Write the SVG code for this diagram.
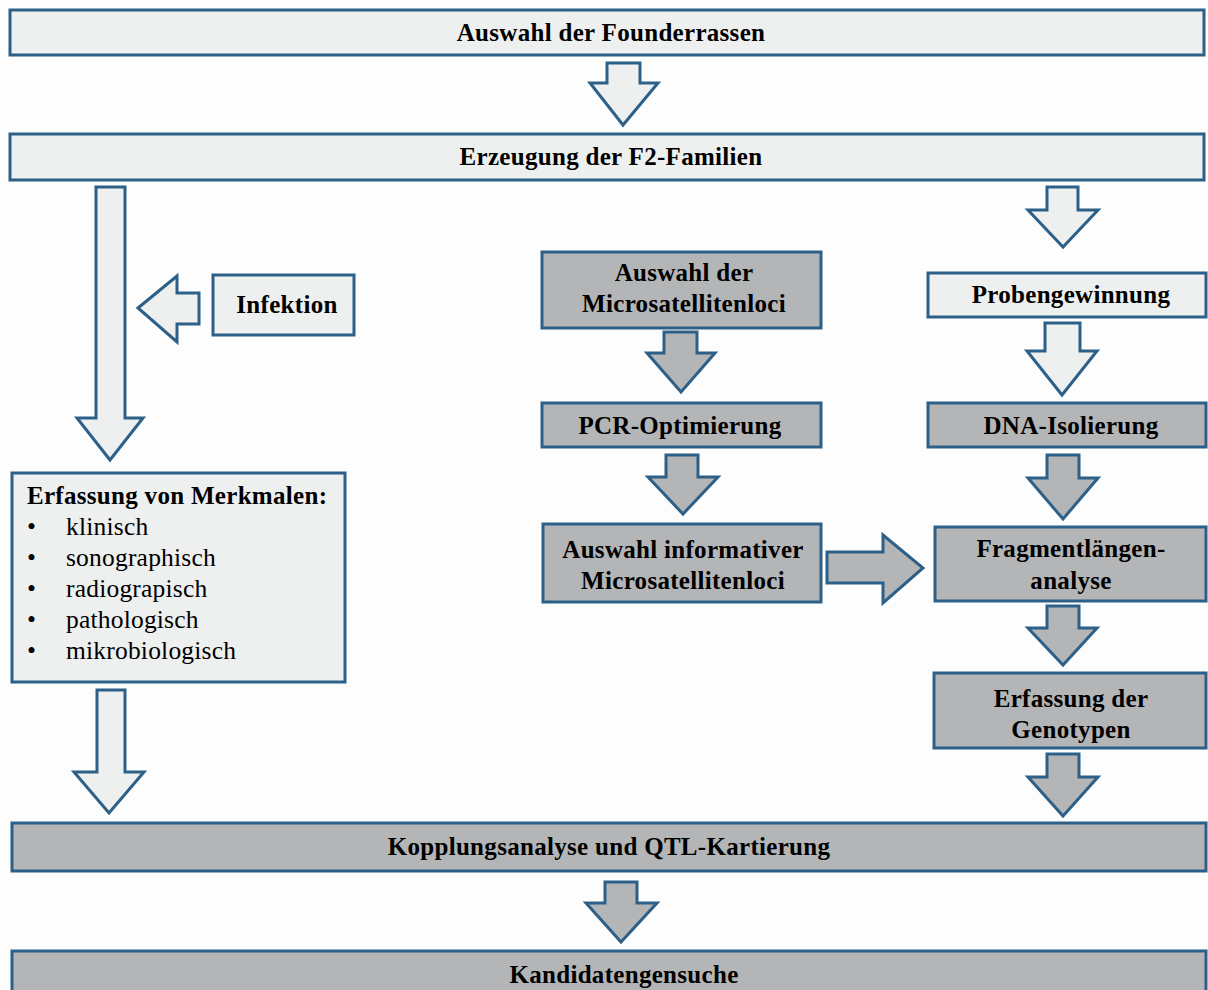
<svg xmlns="http://www.w3.org/2000/svg" width="1208" height="990" viewBox="0 0 1208 990">
<style>
.box{stroke:#2d6088;stroke-width:3}
.l{fill:#eeefef}
.g{fill:#b3b5b7}
.arr{stroke:#2d6088;stroke-width:3;stroke-linejoin:miter}
.t{font-family:"Liberation Serif","Times New Roman",serif;font-weight:bold;font-size:25px;letter-spacing:0.3px;fill:#000;text-anchor:middle}
.n{font-family:"Liberation Serif","Times New Roman",serif;font-size:25.5px;letter-spacing:0.2px;fill:#000}
</style>
<rect width="1208" height="990" fill="#fdfdfd"/>
<g id="connectors">
<polygon class="arr l" points="607,63 640,63 640,83 658,83 623,125 590,83 607,83"/>
<polygon class="arr l" points="96,187 125,187 125,418 143,418 110,460 77,418 96,418"/>
<polygon class="arr l" points="138,308 177,276 177,293 199,293 199,324 177,324 177,342"/>
<polygon class="arr l" points="1047,187 1078,187 1078,210 1098,210 1063,247 1028,210 1047,210"/>
<polygon class="arr l" points="1045,323 1080,323 1080,351 1097,351 1062,395 1027,351 1045,351"/>
<polygon class="arr g" points="664,332 697,332 697,353 715,353 681,392 647,353 664,353"/>
<polygon class="arr g" points="666,455 698,455 698,477 718,477 683,514 648,477 666,477"/>
<polygon class="arr g" points="1047,455 1079,455 1079,478 1098,478 1063,519 1028,478 1047,478"/>
<polygon class="arr g" points="827,552 883,552 883,535 923,568 883,603 883,583 827,583"/>
<polygon class="arr g" points="1047,606 1079,606 1079,628 1097,628 1063,665 1028,628 1047,628"/>
<polygon class="arr g" points="1047,754 1079,754 1079,777 1098,777 1063,816 1028,777 1047,777"/>
<polygon class="arr l" points="97,690 125,690 125,772 144,772 109,813 74,772 97,772"/>
<polygon class="arr g" points="605,882 637,882 637,903 657,903 621,942 586,903 605,903"/>
</g>
<g id="founder">
<rect class="box l" x="10" y="10" width="1194" height="45"/>
<text class="t" x="611" y="41">Auswahl der Founderrassen</text>
</g>
<g id="f2">
<rect class="box l" x="10" y="134" width="1194" height="46"/>
<text class="t" x="611" y="165">Erzeugung der F2-Familien</text>
</g>
<g id="infektion">
<rect class="box l" x="213" y="275" width="141" height="60"/>
<text class="t" x="287" y="313">Infektion</text>
</g>
<g id="auswahl-loci">
<rect class="box g" x="542" y="252" width="279" height="76"/>
<text class="t" x="684" y="281">Auswahl der</text>
<text class="t" x="684" y="312">Microsatellitenloci</text>
</g>
<g id="proben">
<rect class="box l" x="928" y="273" width="278" height="44"/>
<text class="t" x="1071" y="303">Probengewinnung</text>
</g>
<g id="pcr">
<rect class="box g" x="542" y="403" width="279" height="44"/>
<text class="t" x="680" y="434">PCR-Optimierung</text>
</g>
<g id="dna">
<rect class="box g" x="928" y="403" width="278" height="44"/>
<text class="t" x="1071" y="434">DNA-Isolierung</text>
</g>
<g id="merkmale">
<rect class="box l" x="12" y="473" width="333" height="209"/>
<text class="t" x="27" y="504" style="text-anchor:start">Erfassung von Merkmalen:</text>
<g class="n">
<text x="27" y="535">•</text><text x="66" y="535">klinisch</text>
<text x="27" y="566">•</text><text x="66" y="566">sonographisch</text>
<text x="27" y="597">•</text><text x="66" y="597">radiograpisch</text>
<text x="27" y="628">•</text><text x="66" y="628">pathologisch</text>
<text x="27" y="659">•</text><text x="66" y="659">mikrobiologisch</text>
</g>
</g>
<g id="informativ">
<rect class="box g" x="543" y="524" width="278" height="78"/>
<text class="t" x="683" y="558">Auswahl informativer</text>
<text class="t" x="683" y="589">Microsatellitenloci</text>
</g>
<g id="fragment">
<rect class="box g" x="935" y="527" width="271" height="74"/>
<text class="t" x="1071" y="557">Fragmentlängen-</text>
<text class="t" x="1071" y="589">analyse</text>
</g>
<g id="genotypen">
<rect class="box g" x="934" y="673" width="272" height="75"/>
<text class="t" x="1071" y="707">Erfassung der</text>
<text class="t" x="1071" y="738">Genotypen</text>
</g>
<g id="kopplung">
<rect class="box g" x="12" y="823" width="1194" height="48"/>
<text class="t" x="609" y="855">Kopplungsanalyse und QTL-Kartierung</text>
</g>
<g id="kandidaten">
<rect class="box g" x="12" y="951" width="1194" height="52"/>
<text class="t" x="624" y="983">Kandidatengensuche</text>
</g>
</svg>
